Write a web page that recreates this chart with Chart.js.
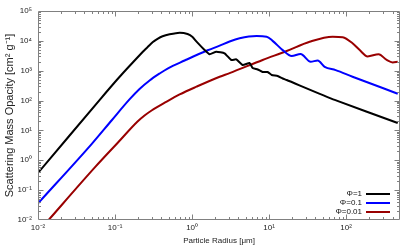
<!DOCTYPE html>
<html><head><meta charset="utf-8">
<script src="https://cdn.jsdelivr.net/npm/chart.js@4.4.0/dist/chart.umd.min.js"></script>
<style>html,body{margin:0;padding:0;background:#fff}canvas{display:block}</style>
</head><body>
<canvas id="c" width="415" height="249"></canvas>
<script>
const seriesLabels = ['Φ=1', 'Φ=0.1', 'Φ=0.01'];
const seriesColors = ['#000000', '#0000ff', '#990000'];

const radiusPhi1 = [0.01, 0.0629, 0.114, 0.228, 0.264, 0.307, 0.356, 0.414, 0.511, 0.689, 0.874, 1.015, 1.143, 1.453, 1.687, 2.06, 2.64, 3.23, 3.75, 4.53, 5.58, 6.11, 7.1, 8.24, 9.57, 10.8, 12.9, 15.0, 16.9, 71, 467];
const opacityPhi1 = [0.376, 104, 617, 4240, 6140, 8960, 11720, 14330, 16600, 18760, 16980, 13460, 9380, 4940, 3550, 4340, 3830, 2285, 2410, 1557, 1815, 1234, 1099, 906, 906, 719, 665, 549, 490, 105, 17.7];

const radiusPhi01 = [0.01, 0.0506, 0.0901, 0.154, 0.208, 0.281, 0.379, 0.481, 0.80, 1.59, 2.28, 3.07, 4.14, 6.88, 9.29, 11.1, 15.0, 19.6, 25.6, 34.6, 42.7, 52.6, 73.1, 121, 467];
const opacityPhi01 = [0.036, 3.7, 21.5, 109, 244, 471, 807, 1186, 2198, 4830, 6890, 9530, 12190, 14500, 13800, 10000, 4900, 3090, 3630, 2000, 2190, 1350, 1050, 630, 170];

const radiusPhi001 = [0.0125, 0.0558, 0.1077, 0.196, 0.2416, 0.298, 0.453, 0.689, 1.14, 2.28, 3.07, 8.24, 16.9, 33.6, 66.8, 90.2, 121, 150, 190, 264, 336, 402, 467];
const opacityPhi001 = [0.0076, 0.611, 3.79, 19.9, 31.6, 46.6, 88, 160, 292, 630, 832, 2290, 4570, 9330, 13800, 13200, 8300, 4900, 3020, 3550, 2290, 1900, 2000];

const xTickValues = [0.01, 0.1, 1, 10, 100];
const xTickLabels = ['10⁻²', '10⁻¹', '10⁰', '10¹', '10²'];
const yTickValues = [0.01, 0.1, 1, 10, 100, 1000, 10000, 100000];
const yTickLabels = ['10⁻²', '10⁻¹', '10⁰', '10¹', '10²', '10³', '10⁴', '10⁵'];
const xRange = [0.01, 500];
const yRange = [0.01, 100000];
const xTitle = 'Particle Radius [μm]';
const yTitle = 'Scattering Mass Opacity [cm² g⁻¹]';

const FONT = "'Liberation Sans', Arial, Helvetica, sans-serif";
const pts = (xs, ys) => xs.map((v, i) => ({x: v, y: ys[i]}));
const seriesData = [pts(radiusPhi1, opacityPhi1), pts(radiusPhi01, opacityPhi01), pts(radiusPhi001, opacityPhi001)];

const framePlugin = {
  id: 'frame',
  afterDatasetsDraw(chart) {
    const {ctx, chartArea: a, scales: {x, y}} = chart;
    ctx.save();
    ctx.strokeStyle = '#808080';
    ctx.lineWidth = 1;
    ctx.beginPath();
    const L = Math.round(a.left) + 0.5, R = Math.round(a.right) - 0.5;
    const T = Math.round(a.top) + 0.5, B = Math.round(a.bottom) - 0.5;
    ctx.rect(L, T, R - L, B - T);
    for (let e = -2; e <= 2; e++) for (let d = 1; d <= 9; d++) {
      const v = d * Math.pow(10, e);
      if (v <= x.min * 1.0001 || v >= x.max * 0.9999) continue;
      const p = Math.round(x.getPixelForValue(v)) + 0.5;
      const len = d === 1 ? 5 : 2.5;
      ctx.moveTo(p, B); ctx.lineTo(p, B - len);
      ctx.moveTo(p, T); ctx.lineTo(p, T + len);
    }
    for (let e = -2; e <= 4; e++) for (let d = 1; d <= 9; d++) {
      const v = d * Math.pow(10, e);
      if (v <= y.min * 1.0001 || v >= y.max * 0.9999) continue;
      const p = Math.round(y.getPixelForValue(v)) + 0.5;
      const len = d === 1 ? 5 : 2.5;
      ctx.moveTo(L, p); ctx.lineTo(L + len, p);
      ctx.moveTo(R, p); ctx.lineTo(R - len, p);
    }
    ctx.stroke();
    // legend
    ctx.font = '8px ' + FONT;
    ctx.textAlign = 'right';
    ctx.textBaseline = 'middle';
    chart.data.datasets.forEach((ds, i) => {
      const yy = a.bottom - 26 + i * 9;
      ctx.fillStyle = '#111';
      ctx.fillText(ds.label, a.right - 38, yy);
      ctx.strokeStyle = ds.borderColor;
      ctx.lineWidth = 2;
      ctx.beginPath();
      ctx.moveTo(a.right - 34, yy);
      ctx.lineTo(a.right - 10, yy);
      ctx.stroke();
    });
    ctx.restore();
  }
};

new Chart(document.getElementById('c'), {
  type: 'scatter',
  data: {
    datasets: seriesData.map((d, i) => ({
      label: seriesLabels[i],
      data: d,
      showLine: true,
      borderColor: seriesColors[i],
      backgroundColor: seriesColors[i],
      borderWidth: 2,
      pointRadius: 0,
      cubicInterpolationMode: i === 0 ? 'default' : 'monotone',
      tension: i === 0 ? 0.15 : 0
    }))
  },
  options: {
    responsive: false,
    animation: false,
    devicePixelRatio: 1,
    layout: {padding: {left: 0, right: 15, top: 11, bottom: 0}},
    plugins: {legend: {display: false}, tooltip: {enabled: false}},
    scales: {
      x: {
        type: 'logarithmic', position: 'bottom', min: xRange[0], max: xRange[1],
        afterBuildTicks: s => { s.ticks = xTickValues.map(v => ({value: v})); },
        afterFit: s => { s.height = 29; },
        grid: {display: false, drawTicks: false, tickLength: 0},
        border: {display: false},
        ticks: {autoSkip: false, maxRotation: 0, padding: 3, color: '#222', font: {family: FONT, size: 8},
          callback: (v, i) => xTickLabels[i]},
        title: {display: true, text: xTitle, color: '#222', font: {family: FONT, size: 8}, padding: {top: 0, bottom: 3}}
      },
      y: {
        type: 'logarithmic', position: 'left', min: yRange[0], max: yRange[1],
        afterBuildTicks: s => { s.ticks = yTickValues.map(v => ({value: v})); },
        afterFit: s => { s.width = 38; },
        grid: {display: false, drawTicks: false, tickLength: 0},
        border: {display: false},
        ticks: {autoSkip: false, padding: 6, color: '#222', font: {family: FONT, size: 8},
          callback: (v, i) => yTickLabels[i]},
        title: {display: true, text: yTitle, color: '#222', font: {family: FONT, size: 11}, padding: {top: 3, bottom: 0}}
      }
    }
  },
  plugins: [framePlugin]
});
</script>
</body></html>
